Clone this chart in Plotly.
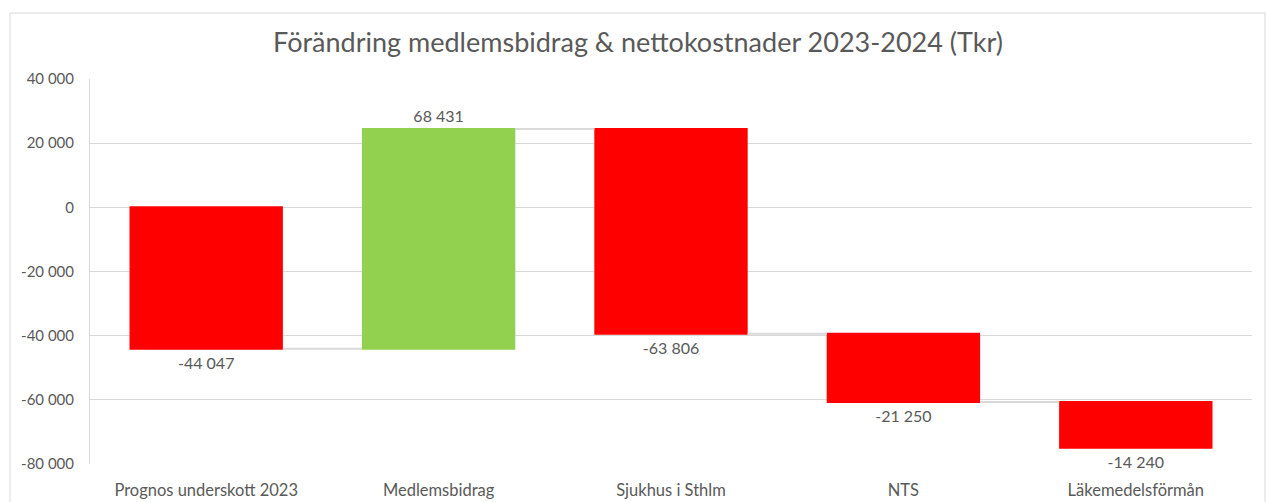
import plotly.graph_objects as go

categories = ["Prognos underskott 2023", "Medlemsbidrag", "Sjukhus i Sthlm", "NTS", "Läkemedelsförmån"]
changes = [-44047, 68431, -63806, -21250, -14240]
tick_vals = [40000, 20000, 0, -20000, -40000, -60000, -80000]
tick_text = ["40 000", "20 000", "0", "-20 000", "-40 000", "-60 000", "-80 000"]
title_text = "Förändring medlemsbidrag & nettokostnader 2023-2024 (Tkr)"

def fmt(v):
    s = f"{abs(v):,}".replace(",", " ")
    return ("-" if v < 0 else "") + s

labels = [fmt(v) for v in changes]

font_family = "Lato, 'Open Sans', sans-serif"
grey_text = "#595959"

fig = go.Figure(go.Waterfall(
    x=categories,
    y=changes,
    measure=["relative"] * len(changes),
    text=labels,
    textposition="outside",
    textfont=dict(family=font_family, size=16, color=grey_text),
    increasing=dict(marker=dict(color="#92D050")),
    decreasing=dict(marker=dict(color="#FF0000")),
    connector=dict(line=dict(color="#d9d9d9", width=2)),
    cliponaxis=False,
    hoverinfo="x+y",
))

fig.update_layout(
    width=1267, height=502,
    margin=dict(l=90, r=15, t=79, b=38, autoexpand=False),
    paper_bgcolor="white", plot_bgcolor="white",
    showlegend=False,
    waterfallgap=0.34,
    title=dict(text=title_text, x=638 / 1267, xanchor="center", y=1 - 43 / 502, yanchor="middle",
               xref="container", yref="container",
               font=dict(family=font_family, size=27, color=grey_text)),
    font=dict(family=font_family, color=grey_text),
    xaxis=dict(showgrid=False, showline=False, zeroline=False, automargin=False,
               tickfont=dict(family=font_family, size=16.5, color=grey_text),
               ticklabelstandoff=14),
    yaxis=dict(range=[-80000, 40000], tickvals=tick_vals, ticktext=tick_text,
               automargin=False,
               showgrid=True, gridcolor="#d9d9d9", gridwidth=1,
               zeroline=False, showline=True, linecolor="#d9d9d9", linewidth=1,
               tickfont=dict(family=font_family, size=15, color=grey_text),
               ticklabelstandoff=12),
    shapes=[dict(type="rect", xref="paper", yref="paper",
                 x0=(10 - 90) / 1162, x1=(1265 - 90) / 1162,
                 y0=(464 - 520) / 385, y1=(464 - 13) / 385,
                 line=dict(color="#d9d9d9", width=1), layer="below")],
)

fig.write_html("out.html", config={"displayModeBar": False},
               post_script="document.body.style.margin='0';document.body.style.overflow='hidden';")
